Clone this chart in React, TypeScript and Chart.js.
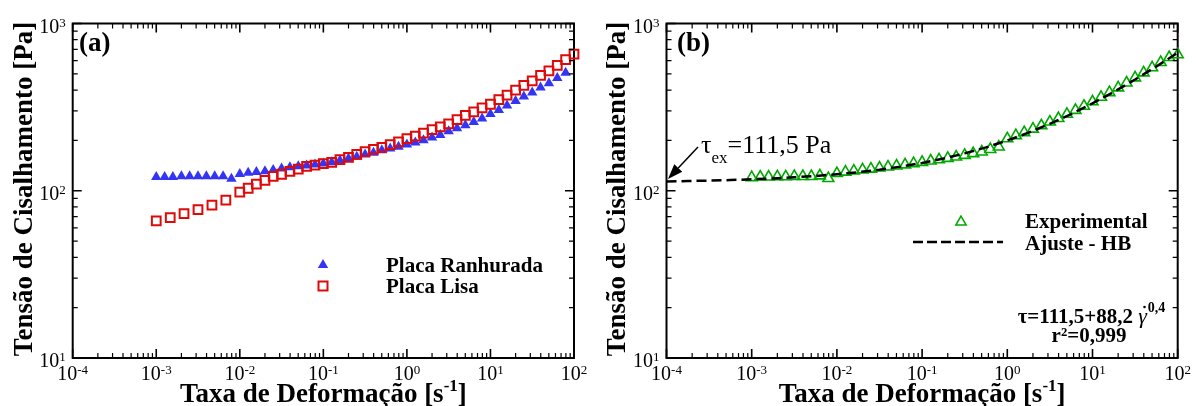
import React, { useEffect, useRef } from 'react';
import { Chart, registerables } from 'chart.js';

Chart.register(...registerables);

const SERIF = '"Liberation Serif", "Times New Roman", Times, serif';

// ---------- data ----------
// Panel (a): Placa Ranhurada (grooved plate)
const rateGrooved = [
  0.001, 0.00126, 0.00158, 0.002, 0.00251, 0.00316, 0.00398, 0.00501, 0.00631, 0.00794,
  0.01, 0.0126, 0.0158, 0.02, 0.0251, 0.0316, 0.0398, 0.0501, 0.0631, 0.0794,
  0.1, 0.126, 0.158, 0.2, 0.251, 0.316, 0.398, 0.501, 0.631, 0.794,
  1, 1.26, 1.58, 2, 2.51, 3.16, 3.98, 5.01, 6.31, 7.94,
  10, 12.6, 15.8, 20, 25.1, 31.6, 39.8, 50.1, 63.1, 79.4,
];
const stressGrooved = [
  121, 121, 121, 122, 122, 122, 122, 122, 122, 118,
  126, 128, 129.5, 131, 133, 136, 138, 140, 141.5, 143.5,
  145.5, 148, 151.5, 156, 159.5, 164.5, 169, 174.5, 179, 183,
  189, 194, 200.5, 208, 215.5, 227, 236.5, 246.5, 258, 270,
  288, 304, 323, 344.5, 366, 387, 414, 439.5, 473, 507,
];
// Panel (a): Placa Lisa (smooth plate)
const rateSmooth = [
  0.001, 0.00147, 0.00215, 0.00316, 0.00464, 0.00681,
  0.01, 0.0126, 0.0158, 0.02, 0.0251, 0.0316, 0.0398, 0.0501, 0.0631, 0.0794,
  0.1, 0.126, 0.158, 0.2, 0.251, 0.316, 0.398, 0.501, 0.631, 0.794,
  1, 1.26, 1.58, 2, 2.51, 3.16, 3.98, 5.01, 6.31, 7.94,
  10, 12.6, 15.8, 20, 25.1, 31.6, 39.8, 50.1, 63.1, 79.4, 100,
];
const stressSmooth = [
  66, 69, 73, 77, 82, 88,
  98, 103.5, 109.5, 115.5, 122, 125.5, 130.5, 134.5, 140, 142.5,
  145.5, 148, 153.5, 158.5, 165, 171.5, 176.5, 181.5, 189, 196,
  205, 212, 221, 232, 241, 251, 266.5, 282, 296, 313,
  329, 351, 372.5, 399, 426, 454, 489, 521, 561, 609, 655,
];
// Panel (b): Experimental
const rateExp = [
  0.001, 0.00126, 0.00158, 0.002, 0.00251, 0.00316, 0.00398, 0.00501, 0.00631, 0.00794,
  0.01, 0.0126, 0.0158, 0.02, 0.0251, 0.0316, 0.0398, 0.0501, 0.0631, 0.0794,
  0.1, 0.126, 0.158, 0.2, 0.251, 0.316, 0.398, 0.501, 0.631, 0.794,
  1, 1.26, 1.58, 2, 2.51, 3.16, 3.98, 5.01, 6.31, 7.94,
  10, 12.6, 15.8, 20, 25.1, 31.6, 39.8, 50.1, 63.1, 79.4, 100,
];
const stressExp = [
  120, 121, 121, 121.5, 121.5, 122, 122, 122, 123, 118.5,
  127, 129.5, 131.5, 133.5, 135, 137, 139, 141, 143, 145.5,
  148, 151, 153.5, 156.5, 159.5, 163, 167, 171, 177, 183,
  205, 214, 223, 234, 245, 258, 271, 287, 303, 321,
  341, 363, 387, 413, 442, 474, 508, 545, 586, 627, 652,
];
// Panel (b): Ajuste - HB (dashed fit line)
const rateFit = [
  0.0001, 0.000178, 0.000316, 0.000562, 0.001, 0.00178, 0.00316, 0.00562,
  0.01, 0.0178, 0.0316, 0.0562, 0.1, 0.178, 0.316, 0.562,
  1, 1.78, 3.16, 5.62, 10, 17.8, 31.6, 56.2, 100,
];
const stressFit = [
  113.7, 114.3, 115.0, 115.9, 117.1, 118.5, 120.3, 122.6,
  125.5, 129.1, 133.7, 139.4, 146.6, 155.7, 167.2, 181.6,
  199.7, 222.5, 251.3, 287.5, 333.1, 390.4, 462.6, 553.6, 668.0,
];

// ---------- axes ----------
const xTickExps = [-4, -3, -2, -1, 0, 1, 2];
const xTickLabels = ['-4', '-3', '-2', '-1', '0', '1', '2'];
const yTickExps = [1, 2, 3];
const yTickLabels = ['1', '2', '3'];
const X_MIN = 1e-4;
const X_MAX = 100;
const Y_MIN = 10;
const Y_MAX = 1000;

const Y_TITLE = 'Tensão de Cisalhamento [Pa]';
const X_TITLE_MAIN = 'Taxa de Deformação [s';
const X_TITLE_SUP = '-1';
const X_TITLE_END = ']';

const BLUE = '#3434f4';
const RED = '#dd0a0a';
const GREEN = '#00a800';

function drawPow10(ctx: any, exp: string, x: number, y: number, align: string) {
  ctx.font = `20px ${SERIF}`;
  const wb = ctx.measureText('10').width;
  ctx.font = `13px ${SERIF}`;
  const we = ctx.measureText(exp).width;
  const tot = wb + we;
  const x0 = align === 'center' ? x - tot / 2 : x - tot;
  ctx.textAlign = 'left';
  ctx.textBaseline = 'alphabetic';
  ctx.fillStyle = '#000';
  ctx.font = `20px ${SERIF}`;
  ctx.fillText('10', x0, y);
  ctx.font = `13px ${SERIF}`;
  ctx.fillText(exp, x0 + wb, y - 6);
}

function triPath(ctx: any, x: number, y: number, r: number) {
  const TT = (2 * Math.PI) / 3;
  let rad = 0;
  ctx.beginPath();
  ctx.moveTo(x + Math.sin(rad) * r, y - Math.cos(rad) * r);
  rad += TT;
  ctx.lineTo(x + Math.sin(rad) * r, y - Math.cos(rad) * r);
  rad += TT;
  ctx.lineTo(x + Math.sin(rad) * r, y - Math.cos(rad) * r);
  ctx.closePath();
}

function makeDecor(cfg: any) {
  return {
    id: 'decor',
    beforeDatasetsDraw(chart: any) {
      const ctx = chart.ctx;
      const ca = chart.chartArea;
      ctx.save();
      ctx.strokeStyle = '#000';
      ctx.lineWidth = 2;
      ctx.strokeRect(ca.left, ca.top, ca.right - ca.left, ca.bottom - ca.top);
      ctx.restore();
    },
    afterDatasetsDraw(chart: any) {
      const ctx = chart.ctx;
      const ca = chart.chartArea;
      const sx = chart.scales.x;
      const sy = chart.scales.y;
      ctx.save();
      ctx.strokeStyle = '#000';
      // x ticks (bottom & top, inward)
      xTickExps.forEach((e, i) => {
        for (let m = 1; m <= 9; m++) {
          if (i === xTickExps.length - 1 && m > 1) break;
          const p = sx.getPixelForValue(m * Math.pow(10, e));
          const L = m === 1 ? 9 : 5;
          ctx.lineWidth = m === 1 ? 1.6 : 1.2;
          ctx.beginPath();
          ctx.moveTo(p, ca.bottom);
          ctx.lineTo(p, ca.bottom - L);
          ctx.moveTo(p, ca.top);
          ctx.lineTo(p, ca.top + L);
          ctx.stroke();
        }
        drawPow10(ctx, xTickLabels[i], sx.getPixelForValue(Math.pow(10, e)), ca.bottom + 22, 'center');
      });
      // y ticks (left & right, inward)
      yTickExps.forEach((e, i) => {
        for (let m = 1; m <= 9; m++) {
          if (i === yTickExps.length - 1 && m > 1) break;
          const p = sy.getPixelForValue(m * Math.pow(10, e));
          const L = m === 1 ? 9 : 5;
          ctx.lineWidth = m === 1 ? 1.6 : 1.2;
          ctx.beginPath();
          ctx.moveTo(ca.left, p);
          ctx.lineTo(ca.left + L, p);
          ctx.moveTo(ca.right, p);
          ctx.lineTo(ca.right - L, p);
          ctx.stroke();
        }
        drawPow10(ctx, yTickLabels[i], ca.left - 7, sy.getPixelForValue(Math.pow(10, e)) + 9, 'right');
      });
      ctx.fillStyle = '#000';
      // y title
      ctx.save();
      ctx.translate(cfg.yTitleX, 189);
      ctx.rotate(-Math.PI / 2);
      ctx.font = `bold 27px ${SERIF}`;
      ctx.textAlign = 'center';
      ctx.textBaseline = 'alphabetic';
      ctx.fillText(Y_TITLE, 0, 0);
      ctx.restore();
      // x title
      {
        ctx.font = `bold 27px ${SERIF}`;
        const w1 = ctx.measureText(X_TITLE_MAIN).width;
        const w3 = ctx.measureText(X_TITLE_END).width;
        ctx.font = `bold 17px ${SERIF}`;
        const w2 = ctx.measureText(X_TITLE_SUP).width;
        const cx = (ca.left + ca.right) / 2;
        const x0 = cx - (w1 + w2 + w3) / 2;
        const by = 401.5;
        ctx.textAlign = 'left';
        ctx.textBaseline = 'alphabetic';
        ctx.font = `bold 27px ${SERIF}`;
        ctx.fillText(X_TITLE_MAIN, x0, by);
        ctx.font = `bold 17px ${SERIF}`;
        ctx.fillText(X_TITLE_SUP, x0 + w1, by - 11);
        ctx.font = `bold 27px ${SERIF}`;
        ctx.fillText(X_TITLE_END, x0 + w1 + w2, by);
      }
      // panel label
      ctx.font = `bold 27px ${SERIF}`;
      ctx.textAlign = 'left';
      ctx.fillText(cfg.label, 79, 51);
      cfg.extra(ctx, chart);
      ctx.restore();
    },
  };
}

const decorA = makeDecor({
  label: '(a)',
  yTitleX: 32,
  extra(ctx: any) {
    // legend
    ctx.fillStyle = BLUE;
    triPath(ctx, 323, 265, 6);
    ctx.fill();
    ctx.strokeStyle = RED;
    ctx.lineWidth = 2;
    ctx.strokeRect(318.5, 281.5, 9, 9);
    ctx.fillStyle = '#000';
    ctx.font = `bold 21px ${SERIF}`;
    ctx.textAlign = 'left';
    ctx.textBaseline = 'alphabetic';
    ctx.fillText('Placa Ranhurada', 386, 272);
    ctx.fillText('Placa Lisa', 386, 293);
  },
});

const decorB = makeDecor({
  label: '(b)',
  yTitleX: 27,
  extra(ctx: any) {
    // legend
    ctx.strokeStyle = GREEN;
    ctx.lineWidth = 1.5;
    triPath(ctx, 363, 222, 6);
    ctx.stroke();
    ctx.strokeStyle = '#000';
    ctx.lineWidth = 2.5;
    ctx.setLineDash([10, 4]);
    ctx.beginPath();
    ctx.moveTo(315, 242);
    ctx.lineTo(405, 242);
    ctx.stroke();
    ctx.setLineDash([]);
    ctx.fillStyle = '#000';
    ctx.font = `bold 21px ${SERIF}`;
    ctx.textAlign = 'left';
    ctx.textBaseline = 'alphabetic';
    ctx.fillText('Experimental', 427, 228);
    ctx.fillText('Ajuste - HB', 427, 250);
    // equation
    const p1 = 'τ=111,5+88,2 ';
    const p2 = 'γ';
    const p3 = '0,4';
    ctx.font = `bold 21px ${SERIF}`;
    const w1 = ctx.measureText(p1).width;
    ctx.font = `italic 22px ${SERIF}`;
    const w2 = ctx.measureText(p2).width;
    ctx.font = `bold 14px ${SERIF}`;
    const w3 = ctx.measureText(p3).width;
    const cx = 493;
    const x0 = cx - (w1 + w2 + w3) / 2;
    ctx.font = `bold 21px ${SERIF}`;
    ctx.fillText(p1, x0, 323);
    ctx.font = `italic 22px ${SERIF}`;
    ctx.fillText(p2, x0 + w1, 323);
    // dot over gamma (shear-rate notation)
    ctx.beginPath();
    ctx.arc(x0 + w1 + w2 / 2 + 2, 307, 1.3, 0, Math.PI * 2);
    ctx.fill();
    ctx.font = `bold 14px ${SERIF}`;
    ctx.fillText(p3, x0 + w1 + w2 + 1, 312);
    ctx.font = `bold 21px ${SERIF}`;
    ctx.textAlign = 'center';
    ctx.fillText('r²=0,999', 491, 342);
    // annotation arrow
    ctx.strokeStyle = '#000';
    ctx.lineWidth = 1.5;
    const tx = 100, ty = 147, hx = 70, hy = 179;
    const ang = Math.atan2(hy - ty, hx - tx);
    const hl = 15, hw = 5.5;
    const bx = hx - Math.cos(ang) * hl, byy = hy - Math.sin(ang) * hl;
    ctx.beginPath();
    ctx.moveTo(tx, ty);
    ctx.lineTo(bx, byy);
    ctx.stroke();
    ctx.beginPath();
    ctx.moveTo(hx, hy);
    ctx.lineTo(bx + Math.sin(ang) * hw, byy - Math.cos(ang) * hw);
    ctx.lineTo(bx - Math.sin(ang) * hw, byy + Math.cos(ang) * hw);
    ctx.closePath();
    ctx.fill();
    // annotation text
    ctx.textAlign = 'left';
    ctx.font = `26px ${SERIF}`;
    ctx.fillText('τ', 103, 153);
    const wt = ctx.measureText('τ').width;
    ctx.font = `17px ${SERIF}`;
    ctx.fillText('ex', 103 + wt, 163);
    const we = ctx.measureText('ex').width;
    ctx.font = `26px ${SERIF}`;
    ctx.fillText('=111,5 Pa', 103 + wt + we, 153);
  },
});

function baseOptions(padding: any) {
  return {
    responsive: false,
    animation: false,
    events: [],
    layout: { padding },
    plugins: { legend: { display: false }, tooltip: { enabled: false } },
    scales: {
      x: { type: 'logarithmic', min: X_MIN, max: X_MAX, display: false },
      y: { type: 'logarithmic', min: Y_MIN, max: Y_MAX, display: false },
    },
  };
}

function pts(xs: number[], ys: number[]) {
  return xs.map((x, i) => ({ x, y: ys[i] }));
}

function Panel(props: any) {
  const ref = useRef<HTMLCanvasElement>(null);
  useEffect(() => {
    const chart = new Chart(ref.current as any, {
      type: 'scatter',
      data: { datasets: props.makeDatasets() },
      options: baseOptions(props.padding) as any,
      plugins: [props.decor],
    });
    return () => chart.destroy();
  }, []);
  return (
    <canvas
      ref={ref}
      width={598}
      height={406}
      style={{ position: 'absolute', left: props.left, top: 0, width: 598, height: 406 }}
    />
  );
}

function datasetsA() {
  return [
    {
      label: 'Placa Lisa',
      data: pts(rateSmooth, stressSmooth),
      pointStyle: 'rect',
      pointRadius: 6.2,
      borderColor: RED,
      backgroundColor: 'rgba(0,0,0,0)',
      borderWidth: 2,
      showLine: false,
      clip: false,
    },
    {
      label: 'Placa Ranhurada',
      data: pts(rateGrooved, stressGrooved),
      pointStyle: 'triangle',
      pointRadius: 6,
      borderColor: BLUE,
      backgroundColor: BLUE,
      borderWidth: 0,
      showLine: false,
      clip: false,
    },
  ];
}

function datasetsB() {
  return [
    {
      label: 'Ajuste - HB',
      data: pts(rateFit, stressFit),
      showLine: true,
      borderColor: '#000',
      borderWidth: 2.5,
      borderDash: [10, 5],
      pointRadius: 0,
      tension: 0,
      clip: false,
    },
    {
      label: 'Experimental',
      data: pts(rateExp, stressExp),
      pointStyle: 'triangle',
      pointRadius: 6.3,
      borderColor: GREEN,
      backgroundColor: 'rgba(0,0,0,0)',
      borderWidth: 1.6,
      showLine: false,
      clip: false,
    },
  ];
}

export default function App() {
  return (
    <div style={{ position: 'fixed', left: 0, top: 0, width: 1196, height: 406, background: '#fff', overflow: 'hidden' }}>
      <Panel
        left={0}
        makeDatasets={datasetsA}
        padding={{ left: 72.7, right: 24, top: 23.5, bottom: 48 }}
        decor={decorA}
      />
      <Panel
        left={598}
        makeDatasets={datasetsB}
        padding={{ left: 68.5, right: 18.3, top: 23.5, bottom: 48 }}
        decor={decorB}
      />
    </div>
  );
}
